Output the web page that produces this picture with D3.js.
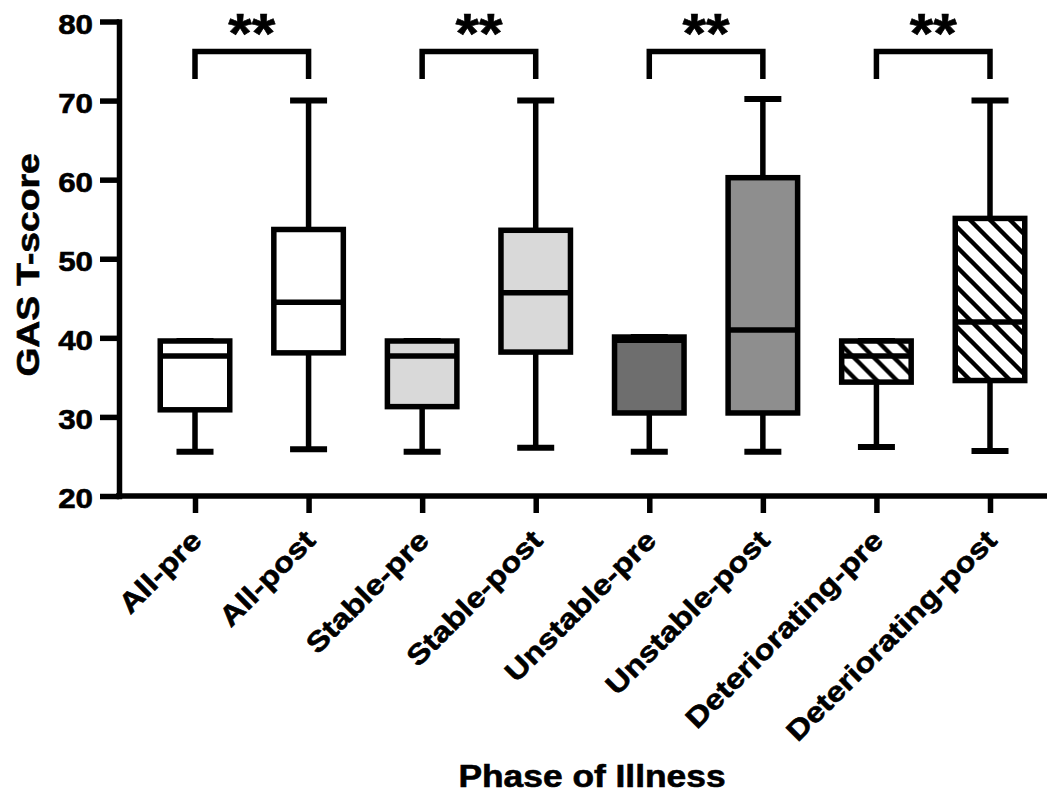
<!DOCTYPE html>
<html>
<head>
<meta charset="utf-8">
<script src="https://cdn.jsdelivr.net/npm/d3@7/dist/d3.min.js"></script>
<style>
  body { margin: 0; background: #fff; }
  svg { display: block; }
  text { font-family: "Liberation Sans", Arial, sans-serif; font-weight: bold; fill: #000; stroke: #000; stroke-width: 0.6px; }
</style>
</head>
<body>
<svg id="chart" width="1062" height="797"></svg>
<script>
// values
var groups = ["All-pre", "All-post", "Stable-pre", "Stable-post",
              "Unstable-pre", "Unstable-post", "Deteriorating-pre", "Deteriorating-post"];
var mins    = [25.6, 25.9, 25.6, 26.1, 25.6, 25.6, 26.2, 25.7];
var q1s     = [30.9, 38.1, 31.3, 38.2, 30.5, 30.5, 34.4, 34.6];
var medians = [37.7, 44.5, 37.7, 45.7, 39.7, 41.0, 37.7, 42.0];
var q3s     = [39.6, 53.7, 39.6, 53.6, 40.1, 60.25, 39.6, 55.1];
var maxs    = [39.6, 70.0, 39.6, 70.0, 40.1, 70.2, 39.6, 70.0];
var fills   = ["#ffffff", "#ffffff", "#d9d9d9", "#d9d9d9", "#6e6e6e", "#8e8e8e", "url(#hatch)", "url(#hatch)"];
var yTicks  = [20, 30, 40, 50, 60, 70, 80];
var pairs   = [["All-pre", "All-post"], ["Stable-pre", "Stable-post"],
               ["Unstable-pre", "Unstable-post"], ["Deteriorating-pre", "Deteriorating-post"]];
var pairLabels = ["**", "**", "**", "**"];

var data = groups.map(function(g, i) {
  return {name: g, min: mins[i], q1: q1s[i], med: medians[i], q3: q3s[i], max: maxs[i], fill: fills[i]};
});

var svg = d3.select("#chart");
var lw = 5.5, boxW = 69.5, capW = 37;

var x = d3.scalePoint().domain(groups).range([195, 990]);
var y = d3.scaleLinear().domain([20, 80]).range([496, 21.5]);

// hatch for the deteriorating boxes
var pat = svg.append("defs").append("pattern")
    .attr("id", "hatch")
    .attr("patternUnits", "userSpaceOnUse")
    .attr("width", 20).attr("height", 20);
pat.append("rect").attr("width", 20).attr("height", 20).attr("fill", "#fff");
pat.append("path")
    .attr("d", "M-5,-5L25,25M-5,15L5,25M15,-5L25,5")
    .attr("stroke", "#000").attr("stroke-width", 4.4);

// y axis
var yAxis = svg.append("g")
    .attr("transform", "translate(119,0)")
    .call(d3.axisLeft(y).tickValues(yTicks).tickSize(19).tickSizeOuter(0).tickPadding(7));
yAxis.select(".domain").attr("stroke-width", lw).attr("stroke-linecap", "square");
yAxis.selectAll(".tick line").attr("stroke-width", lw);
yAxis.selectAll(".tick text")
    .attr("font-size", 28)
    .attr("font-family", null)
    .attr("x", -26 / 1.12)
    .attr("dy", "0.42em")
    .attr("transform", "scale(1.12,1)");

// x axis
var xAxis = svg.append("g")
    .attr("transform", "translate(0," + y(20) + ")")
    .call(d3.axisBottom(x).tickSize(17).tickSizeOuter(0).tickPadding(0));
xAxis.select(".domain").remove();
xAxis.append("line")
    .attr("x1", 116).attr("x2", 1047)
    .attr("stroke", "#000").attr("stroke-width", lw);
xAxis.selectAll(".tick line").attr("stroke-width", lw);
xAxis.selectAll(".tick text")
    .attr("font-size", 28)
    .attr("font-family", null)
    .attr("x", 0).attr("y", 0).attr("dy", 0)
    .style("text-anchor", "end")
    .attr("transform", "translate(8,46) rotate(-45) scale(1.17,1)");

// whiskers
var box = svg.append("g").selectAll(".box")
    .data(data)
  .enter().append("g")
    .attr("class", "box")
    .attr("transform", function(d) { return "translate(" + x(d.name) + ",0)"; });

box.append("line")
    .attr("y1", function(d) { return y(d.min); })
    .attr("y2", function(d) { return y(d.max); })
    .attr("stroke", "#000").attr("stroke-width", lw);
box.append("line")
    .attr("x1", -capW / 2).attr("x2", capW / 2)
    .attr("y1", function(d) { return y(d.min); })
    .attr("y2", function(d) { return y(d.min); })
    .attr("stroke", "#000").attr("stroke-width", 6);
box.append("line")
    .attr("x1", -capW / 2).attr("x2", capW / 2)
    .attr("y1", function(d) { return y(d.max); })
    .attr("y2", function(d) { return y(d.max); })
    .attr("stroke", "#000").attr("stroke-width", 6);

box.append("rect")
    .attr("x", -boxW / 2)
    .attr("width", boxW)
    .attr("y", function(d) { return y(d.q3); })
    .attr("height", function(d) { return y(d.q1) - y(d.q3); })
    .attr("fill", function(d) { return d.fill; })
    .attr("stroke", "#000").attr("stroke-width", lw);
box.append("line")
    .attr("x1", -boxW / 2).attr("x2", boxW / 2)
    .attr("y1", function(d) { return y(d.med); })
    .attr("y2", function(d) { return y(d.med); })
    .attr("stroke", "#000").attr("stroke-width", lw);

// significance brackets
var sig = svg.append("g").selectAll(".sig")
    .data(pairs)
  .enter().append("g")
    .attr("class", "sig");

sig.append("path")
    .attr("d", function(p) {
      return "M" + x(p[0]) + ",79V51.5H" + x(p[1]) + "V79";
    })
    .attr("fill", "none").attr("stroke", "#000").attr("stroke-width", lw);
sig.append("text")
    .attr("transform", function(p) {
      return "translate(" + (x(p[0]) + x(p[1])) / 2 + ",52) scale(1.1,1)";
    })
    .attr("text-anchor", "middle")
    .attr("font-size", 55)
    .text(function(p, i) { return pairLabels[i]; });

// axis titles
svg.append("text")
    .attr("transform", "translate(39,265) rotate(-90) scale(1.2,1)")
    .attr("text-anchor", "middle")
    .attr("font-size", 31)
    .text("GAS T-score");
svg.append("text")
    .attr("transform", "translate(592,787) scale(1.14,1)")
    .attr("text-anchor", "middle")
    .attr("font-size", 31)
    .text("Phase of Illness");
</script>
</body>
</html>
